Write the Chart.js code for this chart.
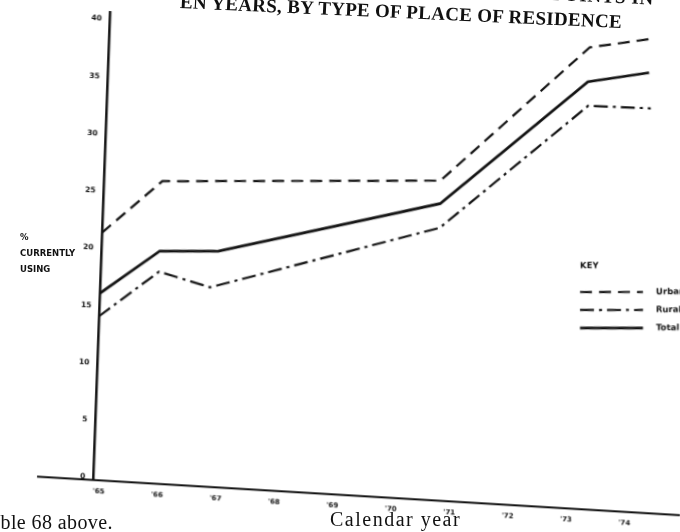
<!DOCTYPE html>
<html><head><meta charset="utf-8">
<script src="https://cdn.jsdelivr.net/npm/chart.js@4.4.1/dist/chart.umd.min.js"></script>
<style>
html,body{margin:0;padding:0;background:#fff;width:680px;height:532px;overflow:hidden;position:relative}
#wrap{position:absolute;left:0;top:0;width:680px;height:532px;transform-origin:93px 480px;transform:matrix(1,0.06,-0.036,1,0,0)}
.t{position:absolute;white-space:nowrap;color:#111}
</style></head><body>
<div id="wrap"><canvas id="c" width="680" height="532"></canvas></div>
<div class="t" style="left:552px;top:-17px;font:bold 19px 'Liberation Serif';letter-spacing:0.6px;transform:rotate(2.6deg);transform-origin:0 50%">POINTS IN</div>
<div class="t" style="left:180px;top:-9px;font:bold 19px 'Liberation Serif';letter-spacing:0.3px;transform:rotate(2.6deg);transform-origin:0 50%">EN YEARS, BY TYPE OF PLACE OF RESIDENCE</div>
<div class="t" style="left:20px;top:229px;font:bold 8.5px 'DejaVu Sans';line-height:16px">%<br>CURRENTLY<br>USING</div>
<div class="t" style="left:330px;top:508px;font:20px 'Liberation Serif';letter-spacing:1.5px">Calendar year</div>
<div class="t" style="left:-20px;top:511px;font:20px 'Liberation Serif';letter-spacing:0.4px">Table 68 above.</div>
<script>
// ---- data ----
const seriesNames = ['Urban', 'Rural', 'Total'];
const urbanYears = [1965, 1966, 1970.75, 1973.22, 1974.3];
const urbanPct   = [21.2, 26.0, 27.5, 39.9, 41.0];
const ruralYears = [1965, 1966, 1966.88, 1970.77, 1973.23, 1974.3];
const ruralPct   = [13.9, 18.1, 17.0, 23.4, 34.8, 34.9];
const totalYears = [1965, 1966, 1967, 1970.76, 1973.21, 1974.25];
const totalPct   = [15.9, 19.9, 20.2, 25.5, 36.9, 38.0];
const xTickYears  = [1965, 1966, 1967, 1968, 1969, 1970, 1971, 1972, 1973, 1974];
const xTickLabels = ["'65", "'66", "'67", "'68", "'69", "'70", "'71", "'72", "'73", "'74"];
const yTickValues = [0, 5, 10, 15, 20, 25, 30, 35, 40];

const pts = (xs, ys) => xs.map((x, i) => ({x: x, y: ys[i]}));
const INK = '#111';

// inverse of the CSS skew so the key is drawn upright
const det = 1 + 0.036 * 0.06;
const keyPlugin = {
  id: 'keyBox',
  afterDraw(chart) {
    const ctx = chart.ctx;
    ctx.save();
    ctx.translate(93, 480);
    ctx.transform(1/det, -0.06/det, 0.036/det, 1/det, 0, 0);
    ctx.translate(-93, -480);
    ctx.fillStyle = INK; ctx.strokeStyle = INK;
    ctx.textBaseline = 'middle';
    ctx.font = 'bold 8.5px "DejaVu Sans"';
    ctx.fillText('KEY', 580, 266);
    const rows = [292, 310, 328];
    chart.data.datasets.forEach((ds, i) => {
      ctx.setLineDash(ds.borderDash || []);
      ctx.lineWidth = ds.borderWidth;
      ctx.beginPath(); ctx.moveTo(580, rows[i]); ctx.lineTo(643, rows[i]); ctx.stroke();
      ctx.setLineDash([]);
      ctx.fillText(ds.label, 656, rows[i]);
    });
    ctx.restore();
  }
};

new Chart(document.getElementById('c'), {
  type: 'line',
  data: {
    datasets: [
      {label: seriesNames[0], data: pts(urbanYears, urbanPct), borderColor: INK, borderWidth: 2.2, borderDash: [12, 7], pointRadius: 0, fill: false, clip: false},
      {label: seriesNames[1], data: pts(ruralYears, ruralPct), borderColor: INK, borderWidth: 2.2, borderDash: [14, 5, 3, 5], pointRadius: 0, fill: false, clip: false},
      {label: seriesNames[2], data: pts(totalYears, totalPct), borderColor: INK, borderWidth: 2.7, pointRadius: 0, fill: false, clip: false}
    ]
  },
  options: {
    responsive: false, animation: false, devicePixelRatio: 1,
    layout: {padding: {top: 12, left: 38, right: 0, bottom: 0}},
    plugins: {legend: {display: false}, tooltip: {enabled: false}, title: {display: false}},
    scales: {
      x: {
        type: 'linear', min: 1964.0582, max: 1975.05,
        afterBuildTicks: s => { s.ticks = xTickYears.map(v => ({value: v})); },
        afterFit: s => { s.height = 52; },
        grid: {display: false},
        border: {display: true, color: INK, width: 2},
        ticks: {autoSkip: false, maxRotation: 0, padding: -1, labelOffset: 6, color: INK,
                font: {family: 'DejaVu Sans', size: 7, weight: 'bold'},
                callback: (v, i) => xTickLabels[i]}
      },
      y: {
        type: 'linear', min: -0.4, max: 40.47, position: {x: 1965},
        afterBuildTicks: s => { s.ticks = yTickValues.map(v => ({value: v})); },
        grid: {display: false},
        border: {display: true, color: INK, width: 2.5},
        ticks: {labelOffset: 2, color: INK, font: {family: 'DejaVu Sans', size: 7.5, weight: 'bold'},
                callback: v => v + '   '}
      }
    }
  },
  plugins: [keyPlugin]
});
</script>
</body></html>
